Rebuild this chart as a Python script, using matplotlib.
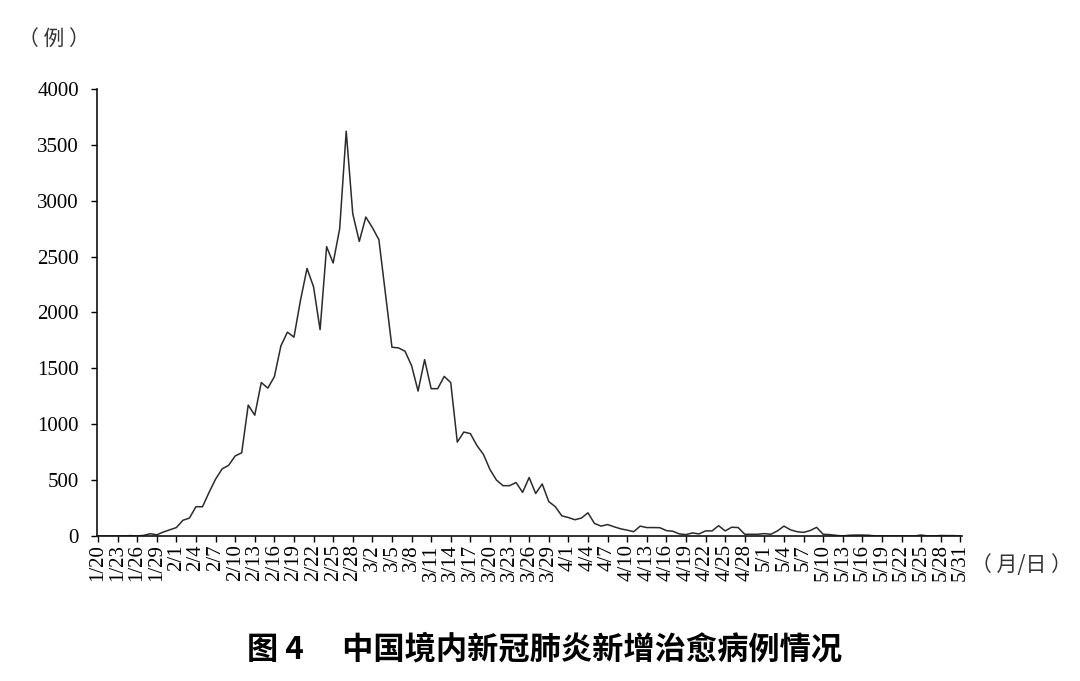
import matplotlib
matplotlib.use('Agg')
import matplotlib.pyplot as plt
import pandas as pd

plt.rcParams['font.family'] = ['Liberation Serif', 'Noto Sans CJK SC']

# daily new recoveries, 2020-01-20 .. 2020-05-31
dates = pd.date_range('2020-01-20', '2020-05-31', freq='D')
jan = [0, 0, 0, 0, 0, 3, 0, 5, 20, 10, 35, 55]
feb = [75, 140, 160, 262, 261, 389, 508, 600, 632, 716,
       744, 1171, 1081, 1373, 1323, 1425, 1701, 1824, 1779, 2109,
       2394, 2230, 1846, 2589, 2443, 2750, 3622, 2884, 2636]
mar = [2854, 2760, 2652, 2170, 1689, 1683, 1653, 1525, 1297, 1578,
       1318, 1318, 1428, 1372, 840, 930, 916, 810, 730, 595,
       500, 450, 450, 478, 390, 523, 380, 465, 308, 262, 180]
apr = [165, 145, 160, 207, 112, 88, 102, 82, 64, 52,
       38, 88, 75, 75, 74, 48, 42, 18, 12, 27,
       18, 45, 45, 92, 45, 78, 75, 15, 15, 15]
may = [21, 15, 45, 88, 55, 38, 32, 48, 77, 15,
       12, 5, 0, 6, 8, 8, 6, 0, 0, 0,
       0, 0, 0, 0, 8, 0, 0, 4, 3, 3, 0]
recovered = jan + feb + mar + apr + may

labels = [f'{d.month}/{d.day}' for d in dates]
days = list(range(len(dates)))

fig = plt.figure(figsize=(10.8, 6.81), dpi=100)
ax = fig.add_axes([0.0898, 0.2130, 0.8012, 0.6563])

ax.plot(days, recovered, color='#2b2b2b', linewidth=1.1)

ax.set_xlim(-0.15, 132.3)
ax.set_ylim(0, 4000)
ax.set_yticks(range(0, 4001, 500))
ax.set_xticks(days[::3])
ax.set_xticklabels(labels[::3], rotation=90, fontsize=15)
ax.tick_params(axis='y', labelsize=15, direction='out', length=4, width=1, pad=9)
ax.tick_params(axis='x', direction='out', length=4, width=1, pad=2)

for s in ['top', 'right']:
    ax.spines[s].set_visible(False)
for s in ['left', 'bottom']:
    ax.spines[s].set_linewidth(1.2)
    ax.spines[s].set_color('#111111')

cjk = ['Noto Sans CJK SC', 'DejaVu Sans']
fig.text(0.0495, 0.941, '（ 例 ）', family=cjk, fontsize=15,
         ha='center', va='center', color='#333333')
fig.text(0.946, 0.170, '（ 月/日 ）', family=cjk, fontsize=15,
         ha='center', va='center', color='#333333')
fig.text(0.504, 0.046, '图 4　 中国境内新冠肺炎新增治愈病例情况', family=cjk,
         fontsize=22.5, fontweight='bold', ha='center', va='center')

fig.savefig('out.png', dpi=100)
